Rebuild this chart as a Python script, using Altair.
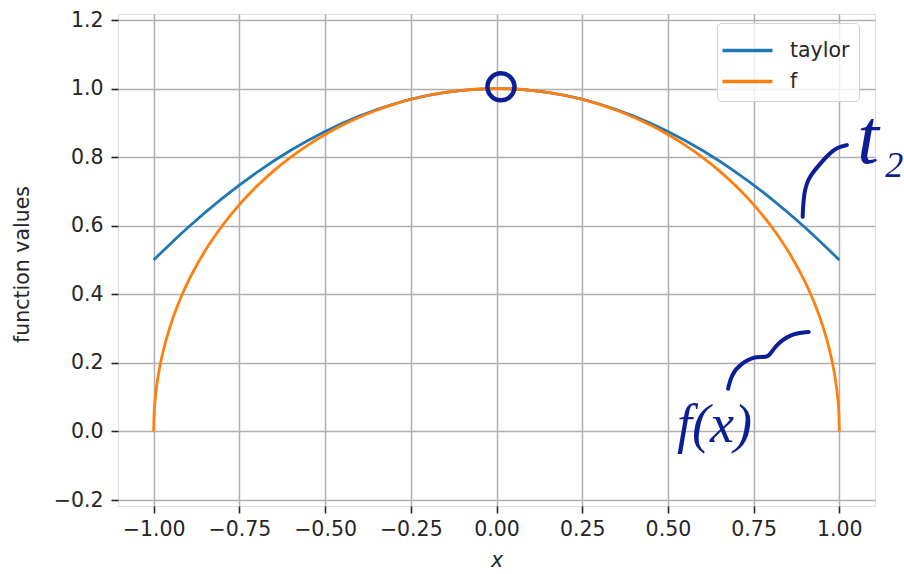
import altair as alt
import pandas as pd

# ---- data ----
taylor_x = [-1.0, -0.9, -0.8, -0.7, -0.6, -0.5, -0.4, -0.3, -0.2, -0.1, 0.0,
            0.1, 0.2, 0.3, 0.4, 0.5, 0.6, 0.7, 0.8, 0.9, 1.0]
taylor_y = [0.5, 0.595, 0.68, 0.755, 0.82, 0.875, 0.92, 0.955, 0.98, 0.995, 1.0,
            0.995, 0.98, 0.955, 0.92, 0.875, 0.82, 0.755, 0.68, 0.595, 0.5]

f_x = [-1.0, -0.999, -0.995, -0.99, -0.98, -0.97, -0.95, -0.92, -0.9, -0.85, -0.8,
       -0.75, -0.7, -0.65, -0.6, -0.55, -0.5, -0.45, -0.4, -0.35, -0.3, -0.25, -0.2,
       -0.15, -0.1, -0.05, 0.0,
       0.05, 0.1, 0.15, 0.2, 0.25, 0.3, 0.35, 0.4, 0.45, 0.5, 0.55, 0.6, 0.65, 0.7,
       0.75, 0.8, 0.85, 0.9, 0.92, 0.95, 0.97, 0.98, 0.99, 0.995, 0.999, 1.0]
f_y = [0.0, 0.0447, 0.0999, 0.1411, 0.199, 0.2431, 0.3122, 0.3919, 0.4359, 0.5268, 0.6,
       0.6614, 0.7141, 0.7599, 0.8, 0.8352, 0.866, 0.893, 0.9165, 0.9367, 0.9539, 0.9682, 0.9798,
       0.9887, 0.995, 0.9987, 1.0,
       0.9987, 0.995, 0.9887, 0.9798, 0.9682, 0.9539, 0.9367, 0.9165, 0.893, 0.866, 0.8352, 0.8, 0.7599, 0.7141,
       0.6614, 0.6, 0.5268, 0.4359, 0.3919, 0.3122, 0.2431, 0.199, 0.1411, 0.0999, 0.0447, 0.0]

series_names = ["taylor", "f"]
series_colors = ["#1f77b4", "#ff7f0e"]

x_ticks = [-1.0, -0.75, -0.5, -0.25, 0.0, 0.25, 0.5, 0.75, 1.0]
y_ticks = [-0.2, 0.0, 0.2, 0.4, 0.6, 0.8, 1.0, 1.2]

# hand-drawn annotations (data coordinates)
circle_x = [0.013]
circle_y = [1.005]
t2_hook_x = [0.893, 0.896, 0.910, 0.935, 0.965, 0.995, 1.022]
t2_hook_y = [0.626, 0.694, 0.740, 0.770, 0.805, 0.830, 0.835]
fx_hook_x = [0.6755, 0.6850, 0.7114, 0.760, 0.794, 0.8085, 0.857, 0.9105]
fx_hook_y = [0.1247, 0.1650, 0.1977, 0.2219, 0.2123, 0.2461, 0.2853, 0.2899]
ann_text = ["t", "2", "f(x)"]
ann_x = [1.084, 1.16, 0.636]
ann_y = [0.782, 0.742, -0.032]
ann_size = [78, 36, 54]

INK = "#0b1e96"
FONT = "DejaVu Sans"
FS = 20.5

# ---- tables ----
lines = pd.DataFrame(
    [{"x": a, "y": b, "series": "taylor", "i": i} for i, (a, b) in enumerate(zip(taylor_x, taylor_y))]
    + [{"x": a, "y": b, "series": "f", "i": i} for i, (a, b) in enumerate(zip(f_x, f_y))]
)
hooks = pd.DataFrame(
    [{"x": a, "y": b, "g": "t2", "i": i} for i, (a, b) in enumerate(zip(t2_hook_x, t2_hook_y))]
    + [{"x": a, "y": b, "g": "fx", "i": i} for i, (a, b) in enumerate(zip(fx_hook_x, fx_hook_y))]
)
circ = pd.DataFrame({"x": circle_x, "y": circle_y})
ann = pd.DataFrame({"t": ann_text, "x": ann_x, "y": ann_y, "s": ann_size})

xs = alt.Scale(domain=[-1.104, 1.104], nice=False, zero=False)
ys = alt.Scale(domain=[-0.2175, 1.2175], nice=False, zero=False)

base_axis = dict(grid=True, gridColor="#b0b0b0", gridWidth=1.5, domain=False,
                 tickColor="#262626", tickSize=7, tickWidth=1.6,
                 labelFont=FONT, labelFontSize=FS, labelColor="#262626",
                 titleFont=FONT, titleFontSize=FS, titleColor="#262626",
                 titleFontWeight="normal")

xenc = alt.X("x:Q", scale=xs, axis=alt.Axis(values=x_ticks, format=".2f", title="x",
                                            titleFontStyle="italic", titlePadding=11,
                                            labelPadding=6, **base_axis))
yenc = alt.Y("y:Q", scale=ys, axis=alt.Axis(values=y_ticks, format=".1f", title="function values",
                                            titleX=-86, titleY=250, titleAngle=-90,
                                            labelPadding=8, **base_axis))

main = alt.Chart(lines).mark_line(strokeWidth=2.8, interpolate="monotone").encode(
    x=xenc, y=yenc,
    color=alt.Color("series:N", scale=alt.Scale(domain=series_names, range=series_colors),
                    sort=series_names,
                    legend=alt.Legend(title=None, orient="none", legendX=599, legendY=9,
                                      symbolType="M-1.5,0H1.5", symbolSize=1111,
                                      symbolStrokeWidth=3.5, labelFontSize=FS,
                                      labelFont=FONT, labelColor="#262626",
                                      labelOffset=24, rowPadding=2, padding=9,
                                      symbolOffset=3,
                                      fillColor="rgba(255,255,255,0.8)",
                                      strokeColor="#d0d0d0", cornerRadius=4)),
    order="i:Q",
)

hook_layer = alt.Chart(hooks).mark_line(color=INK, strokeWidth=4, strokeCap="round",
                                        interpolate="basis", clip=False).encode(
    x=alt.X("x:Q", scale=xs), y=alt.Y("y:Q", scale=ys), detail="g:N", order="i:Q")

circle_layer = alt.Chart(circ).mark_point(shape="circle", filled=False, color=INK, opacity=1,
                                          strokeWidth=4.5, size=729).encode(
    x=alt.X("x:Q", scale=xs), y=alt.Y("y:Q", scale=ys))

text_layer = alt.Chart(ann).mark_text(color=INK, font="Liberation Serif", fontStyle="italic",
                                      baseline="alphabetic", align="center").encode(
    x=alt.X("x:Q", scale=xs), y=alt.Y("y:Q", scale=ys), text="t:N",
    size=alt.Size("s:Q", scale=None, legend=None))

chart = alt.layer(main, hook_layer, circle_layer, text_layer).properties(
    width=757, height=492,
    autosize=alt.AutoSizeParams(type="none"),
    padding={"left": 118, "top": 14, "right": 29, "bottom": 68},
).configure_view(stroke="#262626", strokeWidth=1.6).configure(background="white")

chart.save("out.html", embed_options={"renderer": "svg", "actions": False})
